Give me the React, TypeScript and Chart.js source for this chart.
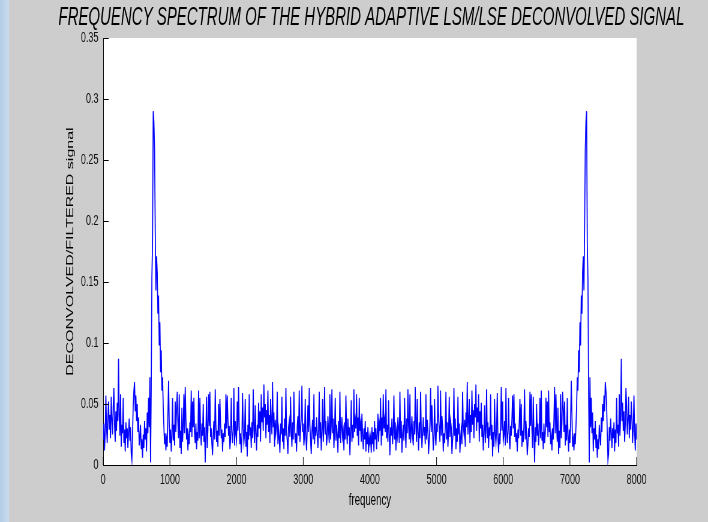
import React, { useEffect, useRef } from 'react';
import { Chart, registerables } from 'chart.js';

Chart.register(...registerables);

const chartTitle = 'FREQUENCY SPECTRUM OF THE HYBRID ADAPTIVE LSM/LSE DECONVOLVED SIGNAL';
const xAxisTitle = 'frequency';
const yAxisTitle = 'DECONVOLVED/FILTERED signal';

const freqStepHz = 10;

const xTickValues = [0, 1000, 2000, 3000, 4000, 5000, 6000, 7000, 8000];
const xTickLabels = ['0', '1000', '2000', '3000', '4000', '5000', '6000', '7000', '8000'];
const yTickValues = [0, 0.05, 0.1, 0.15, 0.2, 0.25, 0.3, 0.35];
const yTickLabels = ['0', '0.05', '0.1', '0.15', '0.2', '0.25', '0.3', '0.35'];

// magnitude, 0 Hz .. 4000 Hz in 10 Hz bins
const magnitudeLowHalf = [
  0.021, 0.034, 0.012, 0.027, 0.057, 0.031, 0.018, 0.039, 0.052, 0.029, 0.041, 0.022, 0.056, 0.037, 0.025, 0.048, 0.063, 0.033, 0.019, 0.044,
  0.028, 0.051, 0.036, 0.087, 0.040, 0.024, 0.058, 0.015, 0.033, 0.026, 0.055, 0.018, 0.029, 0.011, 0.035, 0.022, 0.030, 0.014, 0.027, 0.038,
  0.020, 0.031, 0.009, 0.004, 0.026, 0.049, 0.061, 0.068, 0.044, 0.057, 0.036, 0.050, 0.027, 0.039, 0.016, 0.023, 0.033, 0.013, 0.021, 0.006,
  0.025, 0.014, 0.036, 0.021, 0.030, 0.011, 0.043, 0.026, 0.055, 0.031, 0.072, 0.002, 0.061, 0.154, 0.182, 0.290, 0.281, 0.259, 0.193, 0.143,
  0.171, 0.158, 0.124, 0.139, 0.098, 0.117, 0.076, 0.094, 0.061, 0.072, 0.048, 0.031, 0.017, 0.026, 0.012, 0.021, 0.015, 0.041, 0.069, 0.035,
  0.018, 0.029, 0.011, 0.024, 0.055, 0.020, 0.033, 0.016, 0.052, 0.027, 0.046, 0.060, 0.035, 0.022, 0.058, 0.014, 0.028, 0.009, 0.047, 0.019,
  0.032, 0.058, 0.026, 0.064, 0.038, 0.021, 0.030, 0.012, 0.024, 0.017, 0.035, 0.027, 0.061, 0.023, 0.052, 0.031, 0.055, 0.026, 0.018, 0.034,
  0.013, 0.027, 0.020, 0.061, 0.022, 0.055, 0.028, 0.016, 0.034, 0.024, 0.050, 0.019, 0.031, 0.002, 0.025, 0.056, 0.014, 0.029, 0.058, 0.032,
  0.060, 0.023, 0.030, 0.017, 0.008, 0.026, 0.036, 0.021, 0.062, 0.033, 0.019, 0.028, 0.015, 0.050, 0.024, 0.054, 0.035, 0.022, 0.029, 0.011,
  0.026, 0.019, 0.034, 0.023, 0.058, 0.030, 0.057, 0.038, 0.024, 0.032, 0.013, 0.021, 0.055, 0.027, 0.018, 0.029, 0.063, 0.016, 0.036, 0.025,
  0.020, 0.052, 0.028, 0.064, 0.031, 0.017, 0.026, 0.010, 0.022, 0.059, 0.030, 0.018, 0.025, 0.054, 0.015, 0.027, 0.007, 0.033, 0.021, 0.058,
  0.024, 0.031, 0.014, 0.035, 0.022, 0.062, 0.029, 0.018, 0.049, 0.026, 0.012, 0.033, 0.023, 0.051, 0.030, 0.044, 0.019, 0.058, 0.035, 0.047,
  0.028, 0.066, 0.039, 0.050, 0.022, 0.045, 0.033, 0.061, 0.027, 0.041, 0.018, 0.054, 0.036, 0.025, 0.068, 0.031, 0.043, 0.015, 0.037, 0.026,
  0.032, 0.060, 0.017, 0.029, 0.022, 0.010, 0.034, 0.025, 0.056, 0.019, 0.030, 0.013, 0.038, 0.024, 0.063, 0.027, 0.020, 0.009, 0.031, 0.036,
  0.023, 0.056, 0.028, 0.015, 0.035, 0.021, 0.060, 0.030, 0.018, 0.026, 0.011, 0.032, 0.040, 0.024, 0.061, 0.019, 0.029, 0.038, 0.065, 0.027,
  0.034, 0.016, 0.025, 0.054, 0.022, 0.012, 0.030, 0.049, 0.027, 0.063, 0.033, 0.020, 0.009, 0.028, 0.037, 0.021, 0.058, 0.017, 0.031, 0.024,
  0.039, 0.026, 0.014, 0.030, 0.060, 0.022, 0.035, 0.012, 0.027, 0.054, 0.019, 0.031, 0.064, 0.025, 0.036, 0.016, 0.023, 0.040, 0.028, 0.018,
  0.058, 0.021, 0.032, 0.062, 0.026, 0.038, 0.014, 0.029, 0.055, 0.020, 0.033, 0.025, 0.010, 0.036, 0.022, 0.060, 0.018, 0.030, 0.039, 0.023,
  0.028, 0.012, 0.035, 0.021, 0.057, 0.029, 0.017, 0.038, 0.024, 0.031, 0.008, 0.026, 0.053, 0.019, 0.033, 0.022, 0.062, 0.027, 0.037, 0.030,
  0.058, 0.024, 0.039, 0.016, 0.055, 0.028, 0.034, 0.019, 0.042, 0.025, 0.013, 0.030, 0.021, 0.036, 0.011, 0.027, 0.017, 0.031, 0.010, 0.023,
  0.018,
];

// magnitude, 4010 Hz .. 8000 Hz in 10 Hz bins
const magnitudeHighHalf = [
  0.023, 0.010, 0.031, 0.017, 0.027, 0.011, 0.036, 0.021, 0.030, 0.013, 0.025, 0.042, 0.019, 0.034, 0.028, 0.055, 0.016, 0.039, 0.024, 0.058,
  0.030, 0.037, 0.027, 0.062, 0.022, 0.033, 0.019, 0.053, 0.026, 0.008, 0.031, 0.024, 0.038, 0.017, 0.029, 0.057, 0.021, 0.035, 0.012, 0.028,
  0.023, 0.039, 0.030, 0.018, 0.060, 0.022, 0.036, 0.010, 0.025, 0.033, 0.020, 0.055, 0.029, 0.014, 0.038, 0.026, 0.062, 0.032, 0.021, 0.058,
  0.018, 0.028, 0.040, 0.023, 0.016, 0.036, 0.025, 0.064, 0.031, 0.019, 0.054, 0.027, 0.012, 0.035, 0.022, 0.060, 0.030, 0.014, 0.026, 0.039,
  0.024, 0.031, 0.017, 0.058, 0.021, 0.037, 0.028, 0.009, 0.020, 0.033, 0.063, 0.027, 0.049, 0.030, 0.012, 0.022, 0.054, 0.025, 0.016, 0.034,
  0.027, 0.065, 0.038, 0.029, 0.019, 0.061, 0.024, 0.040, 0.032, 0.011, 0.026, 0.018, 0.030, 0.060, 0.021, 0.035, 0.015, 0.028, 0.056, 0.023,
  0.036, 0.031, 0.009, 0.020, 0.027, 0.063, 0.024, 0.038, 0.013, 0.030, 0.019, 0.056, 0.025, 0.034, 0.010, 0.022, 0.029, 0.017, 0.060, 0.032,
  0.026, 0.037, 0.015, 0.043, 0.031, 0.068, 0.025, 0.036, 0.054, 0.018, 0.041, 0.027, 0.061, 0.033, 0.045, 0.022, 0.050, 0.039, 0.066, 0.028,
  0.047, 0.035, 0.058, 0.019, 0.044, 0.030, 0.051, 0.023, 0.033, 0.012, 0.026, 0.049, 0.018, 0.029, 0.062, 0.022, 0.035, 0.014, 0.031, 0.024,
  0.058, 0.021, 0.033, 0.007, 0.027, 0.015, 0.054, 0.025, 0.018, 0.030, 0.059, 0.022, 0.010, 0.026, 0.017, 0.031, 0.064, 0.028, 0.052, 0.020,
  0.025, 0.036, 0.016, 0.063, 0.029, 0.018, 0.027, 0.055, 0.021, 0.013, 0.032, 0.024, 0.038, 0.057, 0.030, 0.058, 0.023, 0.034, 0.019, 0.026,
  0.011, 0.029, 0.022, 0.035, 0.054, 0.024, 0.050, 0.015, 0.028, 0.019, 0.033, 0.062, 0.021, 0.036, 0.026, 0.008, 0.017, 0.030, 0.023, 0.060,
  0.032, 0.058, 0.029, 0.014, 0.056, 0.025, 0.002, 0.031, 0.019, 0.050, 0.024, 0.034, 0.016, 0.028, 0.055, 0.022, 0.061, 0.020, 0.027, 0.013,
  0.034, 0.018, 0.026, 0.055, 0.031, 0.052, 0.023, 0.061, 0.027, 0.035, 0.017, 0.024, 0.012, 0.030, 0.021, 0.038, 0.064, 0.026, 0.058, 0.032,
  0.019, 0.047, 0.009, 0.028, 0.014, 0.058, 0.022, 0.035, 0.060, 0.046, 0.027, 0.052, 0.016, 0.033, 0.020, 0.055, 0.024, 0.011, 0.029, 0.018,
  0.035, 0.069, 0.041, 0.015, 0.021, 0.012, 0.026, 0.017, 0.031, 0.048, 0.072, 0.061, 0.094, 0.076, 0.117, 0.098, 0.139, 0.124, 0.158, 0.171,
  0.143, 0.193, 0.259, 0.281, 0.290, 0.182, 0.154, 0.061, 0.002, 0.072, 0.031, 0.055, 0.026, 0.043, 0.011, 0.030, 0.021, 0.036, 0.014, 0.025,
  0.006, 0.021, 0.013, 0.033, 0.023, 0.016, 0.039, 0.027, 0.050, 0.036, 0.057, 0.044, 0.068, 0.061, 0.049, 0.026, 0.004, 0.009, 0.031, 0.020,
  0.038, 0.027, 0.014, 0.030, 0.022, 0.035, 0.011, 0.029, 0.018, 0.055, 0.026, 0.033, 0.015, 0.058, 0.024, 0.040, 0.087, 0.036, 0.051, 0.028,
  0.044, 0.019, 0.033, 0.063, 0.048, 0.025, 0.037, 0.056, 0.022, 0.041, 0.029, 0.052, 0.039, 0.018, 0.031, 0.057, 0.027, 0.012, 0.034, 0.021,
];

const OUT_W = 708;
const OUT_H = 522;
const H_SQUEEZE = 0.6; // the picture is horizontally compressed
const CANVAS_W = Math.round(OUT_W / H_SQUEEZE);
const FONT = "'Liberation Sans', Arial, Helvetica, sans-serif";

const plotBackground = {
  id: 'plotBackground',
  beforeDraw(chart: any) {
    const { ctx, chartArea } = chart;
    ctx.save();
    ctx.fillStyle = '#ffffff';
    ctx.fillRect(chartArea.left, chartArea.top, chartArea.right - chartArea.left, chartArea.bottom - chartArea.top);
    ctx.restore();
  },
};

const headTitle = {
  id: 'headTitle',
  afterDraw(chart: any) {
    const { ctx, chartArea } = chart;
    ctx.save();
    ctx.fillStyle = '#000000';
    ctx.font = `italic normal 25px ${FONT}`;
    ctx.textAlign = 'center';
    ctx.textBaseline = 'alphabetic';
    ctx.fillText(chartTitle, (chartArea.left + chartArea.right) / 2 + 2.5, 25);
    ctx.restore();
  },
};

const insideTicks = {
  id: 'insideTicks',
  afterDraw(chart: any) {
    const { ctx, chartArea, scales } = chart;
    ctx.save();
    ctx.strokeStyle = '#000000';
    ctx.lineWidth = 1;
    ctx.beginPath();
    scales.x.ticks.forEach((t: any) => {
      const px = scales.x.getPixelForValue(t.value);
      ctx.moveTo(px, chartArea.bottom);
      ctx.lineTo(px, chartArea.bottom - 8);
    });
    scales.y.ticks.forEach((t: any) => {
      const py = Math.round(scales.y.getPixelForValue(t.value)) + 0.5;
      ctx.moveTo(chartArea.left, py);
      ctx.lineTo(chartArea.left + 9, py);
    });
    ctx.stroke();
    ctx.restore();
  },
};

export default function App() {
  const canvasRef = useRef<HTMLCanvasElement | null>(null);

  useEffect(() => {
    document.body.style.margin = '0';
    const canvas = canvasRef.current;
    if (!canvas) return;
    const magnitudes = [...magnitudeLowHalf, ...magnitudeHighHalf];
    const points = magnitudes.map((m, i) => ({ x: i * freqStepHz, y: m }));

    const chart = new Chart(canvas, {
      type: 'line',
      data: {
        datasets: [
          {
            data: points,
            borderColor: '#0000ff',
            borderWidth: 1.7,
            pointRadius: 0,
            tension: 0,
            fill: false,
          },
        ],
      },
      options: {
        responsive: false,
        devicePixelRatio: 1,
        animation: false,
        events: [],
        layout: { padding: { left: 0, right: 119, top: 38, bottom: 0 } },
        plugins: {
          legend: { display: false },
          tooltip: { enabled: false },
          title: { display: false },
        },
        scales: {
          x: {
            type: 'linear',
            min: 0,
            max: 8000,
            afterBuildTicks: (s: any) => {
              s.ticks = xTickValues.map((v) => ({ value: v }));
            },
            afterFit: (s: any) => {
              s.height = 57;
            },
            ticks: {
              callback: (_v: any, i: number) => xTickLabels[i],
              color: '#111111',
              font: { family: FONT, size: 15 },
              padding: 6,
              maxRotation: 0,
              autoSkip: false,
            },
            grid: { display: false, drawTicks: false },
            border: { display: true, color: '#000000', width: 1 },
            title: {
              display: true,
              text: xAxisTitle,
              color: '#000000',
              font: { family: FONT, size: 16 },
              padding: { top: 0, bottom: 12 },
            },
          },
          y: {
            type: 'linear',
            min: 0,
            max: 0.35,
            afterBuildTicks: (s: any) => {
              s.ticks = yTickValues.map((v) => ({ value: v }));
            },
            afterFit: (s: any) => {
              s.width = 172;
            },
            ticks: {
              callback: (_v: any, i: number) => yTickLabels[i],
              color: '#111111',
              font: { family: FONT, size: 15 },
              padding: 8,
              autoSkip: false,
            },
            grid: { display: false, drawTicks: false },
            border: { display: true, color: '#000000', width: 1 },
            title: {
              display: true,
              text: yAxisTitle,
              color: '#000000',
              font: { family: FONT, size: 16 },
              padding: { top: 108, bottom: 0 },
            },
          },
        },
      } as any,
      plugins: [plotBackground, insideTicks, headTitle],
    });
    canvas.style.width = OUT_W + 'px';
    canvas.style.height = OUT_H + 'px';

    return () => {
      chart.destroy();
    };
  }, []);

  return (
    <div
      style={{
        position: 'relative',
        width: OUT_W,
        height: OUT_H,
        background: '#cdcdcd',
        overflow: 'hidden',
      }}
    >
      <div
        style={{
          position: 'absolute',
          left: 0,
          top: 0,
          width: 9,
          height: OUT_H,
          background: 'linear-gradient(to right, #b4cce6, #c8dbef)',
        }}
      />
      <canvas
        ref={canvasRef}
        width={CANVAS_W}
        height={OUT_H}
        style={{ position: 'absolute', left: 0, top: 0, width: OUT_W, height: OUT_H, display: 'block' }}
      />
    </div>
  );
}
